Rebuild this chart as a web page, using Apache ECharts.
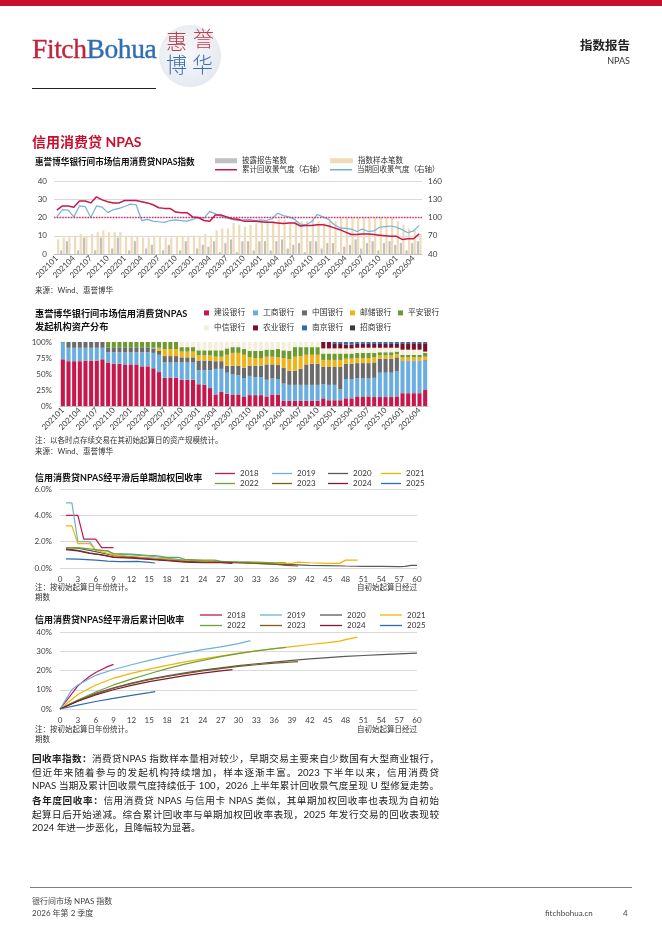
<!DOCTYPE html>
<html><head><meta charset="utf-8">
<script src="https://cdn.jsdelivr.net/npm/echarts@6/dist/echarts.min.js"></script>
<style>
body{margin:0;background:#fff;}
#page{position:relative;width:662px;height:936px;overflow:hidden;font-family:Lato,"Noto Sans CJK SC",sans-serif;color:#222;}
.t{position:absolute;white-space:nowrap;line-height:1;}
#chart{position:absolute;left:0;top:0;width:662px;height:936px;}
.p{position:absolute;left:32px;width:407px;font-size:9.6px;line-height:14px;white-space:nowrap;text-align:justify;text-align-last:justify;color:#222;}
.note{font-size:7.5px;color:#333;}
.ct{font-size:9px;font-weight:bold;color:#111;}
</style></head>
<body>
<div id="page">
  <div id="chart"></div>
  <div style="position:absolute;left:0;top:0;width:662px;height:6px;background:#c8102e"></div>
  <div class="t" style="left:32px;top:35px;font-family:'Liberation Serif','DejaVu Serif',serif;font-size:27.5px;letter-spacing:-0.4px;-webkit-text-stroke:0.35px"><span style="color:#c0243c;-webkit-text-stroke-color:#c0243c">Fitch</span><span style="color:#2f6db5;-webkit-text-stroke-color:#2f6db5">Bohua</span></div>
  <div style="position:absolute;left:159px;top:25px;width:62px;height:62px;border-radius:50%;background:radial-gradient(circle at 45% 45%,#f6f7fa 0%,#e8ecf2 65%,#d3d9e3 100%);"></div>
  <div class="t" style="left:166px;top:30px;font-size:21px;font-weight:300;color:#c23a4a">惠</div>
  <div class="t" style="left:193px;top:27px;font-size:21px;font-weight:300;color:#c23a4a">誉</div>
  <div class="t" style="left:166px;top:53px;font-size:21px;font-weight:300;color:#3a6fb5">博</div>
  <div class="t" style="left:192px;top:53px;font-size:21px;font-weight:300;color:#3a6fb5">华</div>
  <div style="position:absolute;left:32px;top:88px;width:124px;height:1px;background:#222"></div>
  <div class="t" style="right:32px;top:40px;font-size:12.5px;font-weight:bold;color:#222">指数报告</div>
  <div class="t" style="right:32px;top:56px;font-size:9px;color:#333">NPAS</div>

  <div class="t" style="left:32px;top:135px;font-size:14px;font-weight:bold;color:#c8102e">信用消费贷 NPAS</div>

  <div class="t ct" style="left:35px;top:158px;font-size:8.6px">惠誉博华银行间市场信用消费贷NPAS指数</div>
  <div class="t note" style="left:35px;top:287px">来源：Wind、惠誉博华</div>

  <div class="t ct" style="left:35px;top:309px;font-size:9.2px">惠誉博华银行间市场信用消费贷NPAS</div>
  <div class="t ct" style="left:35px;top:322px;font-size:9.2px">发起机构资产分布</div>
  <div class="t note" style="left:35px;top:437px">注：以各时点存续交易在其初始起算日的资产规模统计。</div>
  <div class="t note" style="left:35px;top:448px">来源：Wind、惠誉博华</div>

  <div class="t ct" style="left:35px;top:473px">信用消费贷NPAS经平滑后单期加权回收率</div>
  <div class="t note" style="left:35px;top:584px">注：按初始起算日年份统计。</div>
  <div class="t note" style="right:245px;top:584px">自初始起算日经过</div>
  <div class="t note" style="left:35px;top:594px">期数</div>

  <div class="t ct" style="left:35px;top:615px">信用消费贷NPAS经平滑后累计回收率</div>
  <div class="t note" style="left:35px;top:726px">注：按初始起算日年份统计。</div>
  <div class="t note" style="right:245px;top:726px">自初始起算日经过</div>
  <div class="t note" style="left:35px;top:736px">期数</div>

  <div class="p" style="top:752px"><b>回收率指数：</b>消费贷NPAS 指数样本量相对较少，早期交易主要来自少数国有大型商业银行，</div>
  <div class="p" style="top:766px">但近年来随着参与的发起机构持续增加，样本逐渐丰富。2023 下半年以来，信用消费贷</div>
  <div class="p" style="top:779px">NPAS 当期及累计回收景气度持续低于 100，2026 上半年累计回收景气度呈现 U 型修复走势。</div>
  <div class="p" style="top:794px"><b>各年度回收率：</b>信用消费贷 NPAS 与信用卡 NPAS 类似，其单期加权回收率也表现为自初始</div>
  <div class="p" style="top:808px">起算日后开始递减。综合累计回收率与单期加权回收率表现，2025 年发行交易的回收表现较</div>
  <div class="p" style="top:821px;text-align:left;text-align-last:left">2024 年进一步恶化，且降幅较为显著。</div>

  <div style="position:absolute;left:30px;top:887px;width:602px;height:1px;background:#7f7f7f"></div>
  <div class="t" style="left:32px;top:897px;font-size:8px;color:#444">银行间市场 NPAS 指数</div>
  <div class="t" style="left:32px;top:909px;font-size:8px;color:#444">2026 年第 2 季度</div>
  <div class="t" style="left:545px;top:909px;font-size:8px;color:#444">fitchbohua.cn</div>
  <div class="t" style="left:623px;top:909px;font-size:8px;color:#444">4</div>
</div>
<script>
const FONT = "Lato, 'Noto Sans CJK SC', sans-serif";

// ---------- Chart 1 data ----------
const months = ['202101','202102','202103','202104','202105','202106','202107','202108','202109','202110','202111','202112',
'202201','202202','202203','202204','202205','202206','202207','202208','202209','202210','202211','202212',
'202301','202302','202303','202304','202305','202306','202307','202308','202309','202310','202311','202312',
'202401','202402','202403','202404','202405','202406','202407','202408','202409','202410','202411','202412',
'202501','202502','202503','202504','202505','202506','202507','202508','202509','202510','202511','202512',
'202601','202602','202603','202604','202605'];
const disclosedCount = [0,2,7,0,2,9,0,2,9,0,3,9, 0,2,7,0,3,5,0,2,5,0,2,7, 0,3,5,4,7,1,6,8,1,7,7,2, 7,7,2,7,8,3,5,6,1,7,7,3, 6,6,1,4,5,8,3,6,7,2,6,7, 5,6,2,6,7];
const sampleCount = [8,9,10,10,11,10,11,12,13,12,12,12, 10,10,10,9,9,10,10,9,9,10,10,10, 10,10,11,10,13,14,14,17,16,15,16,17, 18,18,18,19,19,17,18,18,18,19,18,17, 19,18,20,20,20,20,20,20,20,20,20,20, 18,16,14,13,11];
const cumIndex = [112,119,119,117,127,127,124,134,129,126,124,124, 128,128,128,126,124,121,116,115,115,109,108,108, 101,100,95,94,104,104,101,98,97,94,94,94, 93,92,92,91,90,91,91,86,87,87,88,88, 86,83,80,76,72,72,73,73,72,71,70,69, 69,64,65,65,73];
const curIndex = [101,113,112,101,119,118,100,119,117,108,113,115, 118,122,121,95,97,94,93,92,95,96,95,94, 97,100,99,110,106,102,99,97,95,96,97,95, 96,95,98,107,103,101,97,89,88,93,105, 101,97,88,83,82,81,77,81,77,78,84,85,86,84,80,75,78,87];

// ---------- Chart 2 data (% of assets) ----------
const bankNames = ['建设银行','工商银行','中国银行','邮储银行','平安银行','中信银行','农业银行','南京银行','招商银行'];
const ccb  = [73,70,70,70,71,71,71,73, 68,66,66,65,65,65,62,62,59, 53,44,44,44,41,41,41, 34,33,28,18,22,19,18,18, 15,17,17,17,15,18,18, 8,8,8,8,8,8,8, 12,9,9,9, 12,12,15,15,15,14, 14,14,14,15, 20,20,20,20,25];
const icbc = [26,21,21,21,20,20,20,18, 16,18,18,19,19,19,22,22,24, 27,24,24,24,27,27,27, 22,23,28,40,36,33,32,30, 28,30,28,28,26,25,24, 27,25,25,25,25,25,25, 22,24,24,17, 30,30,28,28,28,30, 38,38,38,39, 50,50,50,50,46];
const boc  = [1,9,9,9,9,9,9,9, 7,7,7,7,7,7,7,7,7, 6,10,10,10,8,8,8, 15,15,15,12,12,11,13,15, 17,16,18,18,24,22,22, 25,22,22,25,32,33,33, 27,28,28,35, 24,24,24,24,24,24, 22,22,22,22, 1,1,1,1,1];
const psbc = [0,0,0,0,0,0,0,0, 0,0,0,0,0,0,0,0,1, 5,11,11,11,9,9,9, 8,8,8,7,7,17,20,20, 20,13,12,12,12,12,12, 15,18,22,20,15,14,14, 11,11,11,11, 8,8,8,8,8,8, 5,5,5,5, 5,5,5,5,5];
const pingan = [0,0,0,0,0,0,0,0, 9,9,9,9,9,9,9,9,9, 9,11,11,11,7,7,7, 8,8,8,10,10,10,9,9, 9,10,11,11,11,11,13, 12,13,15,14,12,12,12, 10,10,10,10, 8,8,8,8,8,7, 5,5,5,4, 4,4,4,4,6];
const citic = [0,0,0,0,0,0,0,0, 0,0,0,0,0,0,0,0,0, 0,0,0,0,8,8,8, 13,13,13,13,13,10,8,8, 11,14,14,14,12,12,11, 13,14,8,8,8,8,8, 8,8,8,8, 8,8,8,8,8,8, 7,7,7,6, 8,8,8,8,2];
const abc  = [0,0,0,0,0,0,0,0, 0,0,0,0,0,0,0,0,0, 0,0,0,0,0,0,0, 0,0,0,0,0,0,0,0, 0,0,0,0,0,0,0, 0,0,0,0,0,0,0, 10,10,8,8, 6,6,6,6,6,6, 6,6,6,6, 10,10,10,10,13];
const bonj = [0,0,0,0,0,0,0,0, 0,0,0,0,0,0,0,0,0, 0,0,0,0,0,0,0, 0,0,0,0,0,0,0,0, 0,0,0,0,0,0,0, 0,0,0,0,0,0,0, 0,0,2,2, 4,4,3,3,3,3, 3,3,3,3, 2,2,2,2,2];
const cmb  = [0,0,0,0,0,0,0,0, 0,0,0,0,0,0,0,0,0, 0,0,0,0,0,0,0, 0,0,0,0,0,0,0,0, 0,0,0,0,0,0,0, 0,0,0,0,0,0,0, 0,0,0,0, 0,0,0,0,0,0, 0,0,0,0, 0,0,0,0,0];
const bankData = [ccb, icbc, boc, psbc, pingan, citic, abc, bonj, cmb];
const bankColors = ['#c8174a','#6aaee0','#6b6b6b','#f0b418','#6a9a30','#f4efdc','#7a0f2a','#2e6bb0','#3a3a3a'];

// ---------- Chart 3 & 4 data ----------
const years = ['2018','2019','2020','2021','2022','2023','2024','2025'];
const yearColors = ['#c0185a','#6cb0e0','#5a5a5a','#f2b400','#6ea33a','#7a5c1e','#7d1a35','#2f6cae'];
const single2018 = [[1,4.0],[3,4.0],[4,2.2],[6,2.2],[7,1.55],[9,1.55]];
const single2019 = [[1,4.95],[2,4.95],[3,2.0],[5,2.0],[6,1.35],[8,1.3],[9,1.05],[12,1.0],[15,0.9],[18,0.75],[21,0.6],[24,0.55],[27,0.5],[30,0.45],[32,0.45]];
const single2020 = [[1,1.55],[3,1.5],[6,1.25],[9,0.95],[12,0.85],[15,0.75],[18,0.65],[21,0.55],[24,0.5],[27,0.45],[30,0.4],[33,0.35],[36,0.3],[39,0.25],[42,0.2],[45,0.18],[48,0.15],[51,0.13],[54,0.12],[57,0.1],[58,0.12],[59,0.2],[60,0.2]];
const single2021 = [[1,3.2],[2,3.2],[3,1.85],[5,1.85],[6,1.35],[9,1.0],[12,0.85],[15,0.75],[18,0.65],[21,0.55],[24,0.5],[27,0.45],[30,0.4],[33,0.4],[36,0.35],[39,0.35],[40,0.45],[42,0.4],[45,0.35],[47,0.35],[48,0.6],[50,0.6]];
const single2022 = [[1,1.55],[3,1.55],[6,1.4],[8,1.3],[9,1.1],[12,1.05],[15,0.95],[16,0.95],[18,0.8],[20,0.8],[21,0.65],[24,0.6],[26,0.6],[27,0.5],[30,0.45],[33,0.45],[36,0.4],[38,0.4]];
const single2023 = [[1,1.45],[3,1.35],[5,1.15],[7,1.0],[9,0.85],[12,0.8],[15,0.7],[18,0.6],[21,0.5],[24,0.45],[27,0.45],[30,0.4],[33,0.35],[36,0.3],[38,0.2],[40,0.15]];
const single2024 = [[1,1.4],[3,1.3],[5,1.1],[7,1.0],[9,0.8],[12,0.75],[15,0.65],[18,0.55],[21,0.45],[24,0.4],[27,0.4],[29,0.35]];
const single2025 = [[1,0.7],[3,0.68],[6,0.6],[8,0.52],[10,0.48],[13,0.5],[15,0.42],[16,0.38]];
const singleData = [single2018,single2019,single2020,single2021,single2022,single2023,single2024,single2025];

const cum2018 = [[0,0],[1,4],[2,8],[3,12],[4,14.5],[5,17],[6,19],[7,20.5],[8,22],[9,23.2]];
const cum2019 = [[0,0],[1,5],[2,10],[3,12.5],[6,17.5],[9,20.5],[12,23],[15,25.3],[18,27.3],[21,29.2],[24,30.8],[27,32.3],[30,34],[32,35.5]];
const cum2020 = [[0,0],[3,4.5],[6,8.2],[9,11],[12,13.5],[15,15.5],[18,17.2],[21,18.8],[24,20.2],[27,21.4],[30,22.5],[33,23.5],[36,24.4],[39,25.3],[42,26],[45,26.7],[48,27.3],[51,27.8],[54,28.2],[57,28.6],[60,29]];
const cum2021 = [[0,0],[3,7.5],[6,12.5],[9,16],[12,18.5],[15,20.7],[18,22.7],[21,24.5],[24,26],[27,27.5],[30,29],[33,30.2],[36,31.3],[39,32.4],[42,33.5],[45,34.5],[47,35.3],[48,36],[50,37.3]];
const cum2022 = [[0,0],[3,4.6],[6,8.8],[9,12.5],[12,15.5],[15,18.3],[18,21],[21,23.3],[24,25.3],[27,27.2],[30,28.8],[33,30.2],[36,31.4],[38,32]];
const cum2023 = [[0,0],[3,4.2],[6,7.8],[9,10.8],[12,13.2],[15,15.2],[18,16.9],[21,18.4],[24,19.8],[27,21],[30,22.1],[33,23],[36,23.8],[40,24.6]];
const cum2024 = [[0,0],[3,4],[6,7.3],[9,10],[12,12.3],[15,14.2],[18,15.8],[21,17.3],[24,18.6],[27,19.8],[29,20.5]];
const cum2025 = [[0,0],[3,2],[6,3.9],[9,5.5],[12,7.1],[15,8.5],[16,9]];
const cumData = [cum2018,cum2019,cum2020,cum2021,cum2022,cum2023,cum2024,cum2025];

// ---------- helpers ----------
const LBL = {fontSize:8, color:'#404040', fontFamily:FONT};
const SPLIT = {show:true, lineStyle:{color:'#d9d9d9', width:1}};
function legendItem(name, left, top, w, h, fs){
  return {data:[name], left:left, top:top, itemWidth:w, itemHeight:h, icon:'rect', itemGap:0, padding:0,
    selectedMode:false, textStyle:{fontSize:fs, color:'#333', fontFamily:FONT}};
}

const legends = [
  legendItem('披露报告笔数', 215, 157, 22, 5, 7.5),
  legendItem('指数样本笔数', 330, 157, 23, 5, 7.5),
  legendItem('累计回收景气度（右轴）', 215, 166, 22, 1.5, 7.5),
  legendItem('当期回收景气度（右轴）', 330, 166, 22, 1.5, 7.5)
];
const bankLegendX = [204,253,302,350,398,204,253,302,350];
const bankLegendY = [309,309,309,309,309,324,324,324,324];
bankNames.forEach((n,i)=>legends.push(legendItem(n, bankLegendX[i], bankLegendY[i], 5, 5, 7.8)));
const l3x = [215,272,328,381];
years.forEach((y,i)=>legends.push(legendItem(y, l3x[i%4], i<4?469.5:479.5, 20, 1.3, 8)));
const l4x = [200,260,320,380];
years.forEach((y,i)=>legends.push(legendItem(y, l4x[i%4], i<4?611:621.5, 22, 1.3, 8)));

const chart = echarts.init(document.getElementById('chart'), null, {renderer:'canvas'});

const series = [];
// chart 1
series.push({name:'披露报告笔数', type:'bar', xAxisIndex:0, yAxisIndex:0, data:disclosedCount, barWidth:2.2, barGap:'15%', itemStyle:{color:'#c0c0c0'}});
series.push({name:'指数样本笔数', type:'bar', xAxisIndex:0, yAxisIndex:0, data:sampleCount, barWidth:2.2, itemStyle:{color:'#eedcb8'}});
series.push({name:'累计回收景气度（右轴）', type:'line', xAxisIndex:0, yAxisIndex:1, data:cumIndex, symbol:'none',
  lineStyle:{color:'#c8174a', width:1.5}, itemStyle:{color:'#c8174a'}, z:5,
  markLine:{silent:true, symbol:'none', label:{show:false}, data:[{yAxis:100}], lineStyle:{type:'dotted', color:'#e0245e', width:1.4}}});
series.push({name:'当期回收景气度（右轴）', type:'line', xAxisIndex:0, yAxisIndex:1, data:curIndex, symbol:'none',
  lineStyle:{color:'#6fb2de', width:1.2}, itemStyle:{color:'#6fb2de'}, z:4});
// chart 2
bankNames.forEach((n,i)=>series.push({name:n, type:'bar', stack:'bank', xAxisIndex:1, yAxisIndex:2, data:bankData[i],
  barCategoryGap:'28%', itemStyle:{color:bankColors[i]}}));
// chart 3
years.forEach((y,i)=>series.push({name:y, type:'line', xAxisIndex:2, yAxisIndex:3, data:singleData[i], symbol:'none',
  lineStyle:{color:yearColors[i], width:1.2}, itemStyle:{color:yearColors[i]}}));
// chart 4
years.forEach((y,i)=>series.push({name:y, type:'line', xAxisIndex:3, yAxisIndex:4, data:cumData[i], symbol:'none',
  lineStyle:{color:yearColors[i], width:1.2}, itemStyle:{color:yearColors[i]}}));

const catAxis = (gi)=>({type:'category', gridIndex:gi, data:months, boundaryGap:true,
  axisTick:{show:false}, axisLine:{show:true, lineStyle:{color:'#bfbfbf'}},
  axisLabel:Object.assign({}, LBL, {interval:2, rotate:45, margin:3})});
const valX = (gi)=>({type:'value', gridIndex:gi, min:0, max:60, interval:3, splitLine:{show:false},
  axisTick:{show:false}, axisLine:{show:false}, axisLabel:Object.assign({}, LBL, {margin:7})});

const option = {
  animation:false,
  textStyle:{fontFamily:FONT},
  legend:legends,
  grid:[
    {left:54, top:181, width:368, height:73},
    {left:60, top:342, width:368, height:64},
    {left:60, top:489, width:357, height:79},
    {left:60, top:632, width:357, height:77}
  ],
  xAxis:[catAxis(0), catAxis(1), valX(2), valX(3)],
  yAxis:[
    {type:'value', gridIndex:0, min:0, max:40, interval:10, splitLine:SPLIT, axisLine:{show:false}, axisTick:{show:false}, axisLabel:Object.assign({}, LBL, {margin:7})},
    {type:'value', gridIndex:0, position:'right', min:40, max:160, interval:30, splitLine:{show:false}, axisLine:{show:false}, axisTick:{show:false}, axisLabel:Object.assign({}, LBL, {margin:6})},
    {type:'value', gridIndex:1, min:0, max:100, interval:25, splitLine:{show:false}, axisLine:{show:false}, axisTick:{show:false}, axisLabel:Object.assign({}, LBL, {margin:8, formatter:'{value}%'})},
    {type:'value', gridIndex:2, min:0, max:6, interval:2, splitLine:SPLIT, axisLine:{show:false}, axisTick:{show:false}, axisLabel:Object.assign({}, LBL, {margin:8, formatter:(v)=>v.toFixed(1)+'%'})},
    {type:'value', gridIndex:3, min:0, max:40, interval:10, splitLine:SPLIT, axisLine:{show:false}, axisTick:{show:false}, axisLabel:Object.assign({}, LBL, {margin:8, formatter:'{value}%'})}
  ],
  series:series
};
chart.setOption(option);
</script>
</body></html>
